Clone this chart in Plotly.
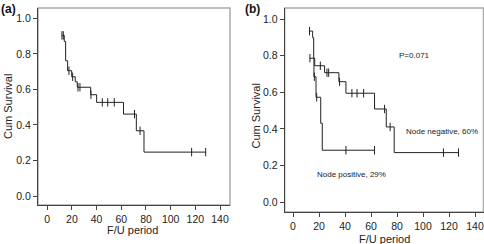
import plotly.graph_objects as go
import numpy as np

# ---------------- data ----------------
# Panel (a): overall survival
time_a = [11.9, 13.8, 14.9, 16.5, 19.8, 22.7, 24.3, 35.2, 40.0, 61.8, 72.2, 78.4, 128.4]
surv_a = [0.904, 0.870, 0.761, 0.705, 0.671, 0.643, 0.612, 0.570, 0.527, 0.461, 0.367, 0.247, 0.247]
censor_a = [11.9, 13.0, 17.6, 20.6, 24.9, 26.5, 35.4, 44.6, 49.0, 54.3, 70.7, 75.2, 117.0, 128.4]

# Panel (b): node negative
time_neg = [12.7, 15.1, 15.9, 16.7, 24.3, 35.3, 40.7, 62.7, 71.7, 77.8, 127.3]
surv_neg = [0.934, 0.898, 0.786, 0.745, 0.707, 0.658, 0.595, 0.509, 0.411, 0.271, 0.271]
censor_neg = [12.7, 21.0, 26.1, 27.4, 35.8, 45.3, 49.2, 54.3, 70.4, 74.7, 115.7, 127.3]

# Panel (b): node positive
time_pos = [13.0, 16.1, 17.7, 21.3, 22.5, 62.7]
surv_pos = [0.786, 0.685, 0.573, 0.431, 0.284, 0.284]
censor_pos = [13.0, 16.4, 18.2, 40.7, 62.7]

x_ticks = [0, 20, 40, 60, 80, 100, 120, 140]
y_ticks = [0.0, 0.2, 0.4, 0.6, 0.8, 1.0]
y_tick_labels = ["0.0", "0.2", "0.4", "0.6", "0.8", "1.0"]

labels_b = ["P=0.071", "Node negative, 60%", "Node positive, 29%"]
labels_b_x = [93.7, 114.4, 45.3]
labels_b_y = [0.80, 0.384, 0.151]

# ---------------- helpers ----------------
W, H = 484, 244
FONT = "Liberation Sans, Arial, Helvetica, sans-serif"
LINE = "#222222"


def px(x):
    return x / W


def py(y):
    return 1 - y / H


def step_value(times, survs, t):
    idx = np.searchsorted(np.array(times), t, side="right") - 1
    idx = max(idx, 0)
    return survs[idx]


fig = go.Figure()


def add_curve(times, survs, censors, xa, ya):
    fig.add_trace(go.Scatter(
        x=times, y=survs, mode="lines", line=dict(shape="hv", color=LINE, width=1),
        xaxis=xa, yaxis=ya, showlegend=False, hoverinfo="skip"))
    cy = [step_value(times, survs, t) for t in censors]
    fig.add_trace(go.Scatter(
        x=censors, y=cy, mode="markers",
        marker=dict(symbol="line-ns", size=6, line=dict(color=LINE, width=1)),
        xaxis=xa, yaxis=ya, showlegend=False, hoverinfo="skip"))


add_curve(time_a, surv_a, censor_a, "x", "y")
add_curve(time_neg, surv_neg, censor_neg, "x2", "y2")
add_curve(time_pos, surv_pos, censor_pos, "x2", "y2")

axis_common = dict(
    showline=True, linecolor="#444444", linewidth=1, ticks="outside", ticklen=4,
    tickcolor="#444444", tickwidth=1, showgrid=False, zeroline=False,
    tickfont=dict(family=FONT, size=10.5, color="#222222"),
)

fig.update_layout(
    width=W, height=H, margin=dict(l=0, r=0, t=0, b=0),
    paper_bgcolor="white", plot_bgcolor="white",
    font=dict(family=FONT, color="#222222"),
    xaxis=dict(domain=[px(38), px(230)], range=[-7.5, 148.1], anchor="y",
               tickvals=x_ticks, **axis_common),
    yaxis=dict(domain=[py(205), py(8)], range=[-0.0506, 1.058], anchor="x",
               tickvals=y_ticks, ticktext=y_tick_labels, **axis_common),
    xaxis2=dict(domain=[px(284.7), px(483.5)], range=[-6.4, 146.5], anchor="y2",
                tickvals=x_ticks, **axis_common),
    yaxis2=dict(domain=[py(212), py(8)], range=[-0.053, 1.06], anchor="x2",
                tickvals=y_ticks, ticktext=y_tick_labels, **axis_common),
)

# light frame (top/right)
for xr, yr in (("x", "y"), ("x2", "y2")):
    fig.add_shape(type="rect", xref=f"{xr} domain", yref=f"{yr} domain",
                  x0=0, x1=1, y0=0, y1=1, line=dict(color="#aaaaaa", width=1.5),
                  layer="below")

ann = []


def paper_text(text, x, y, size, angle=0, color="#222222"):
    ann.append(dict(text=text, x=px(x), y=py(y), xref="paper", yref="paper",
                    xanchor="center", yanchor="middle", textangle=angle,
                    showarrow=False, font=dict(size=size, family=FONT, color=color)))


# panel labels
paper_text("<b>(a)</b>", 8, 9, 12, color="#111111")
paper_text("<b>(b)</b>", 252, 9, 12, color="#111111")
# axis titles
paper_text("Cum Survival", 8, 107, 11, angle=-90)
paper_text("Cum Survival", 255.5, 116, 11, angle=-90)
paper_text("F/U period", 132.7, 230, 11)
paper_text("F/U period", 384.7, 238.5, 11)
# in-plot labels (b)
for t, xv, yv in zip(labels_b, labels_b_x, labels_b_y):
    ann.append(dict(text=t, x=xv, y=yv, xref="x2", yref="y2", showarrow=False,
                    xanchor="center", yanchor="middle",
                    font=dict(size=8, family=FONT, color="#222222")))

fig.update_layout(annotations=ann)

fig.write_html(
    "out.html",
    config={"displayModeBar": False, "staticPlot": True},
    post_script="document.body.style.margin='0';document.body.style.overflow='hidden';",
)
